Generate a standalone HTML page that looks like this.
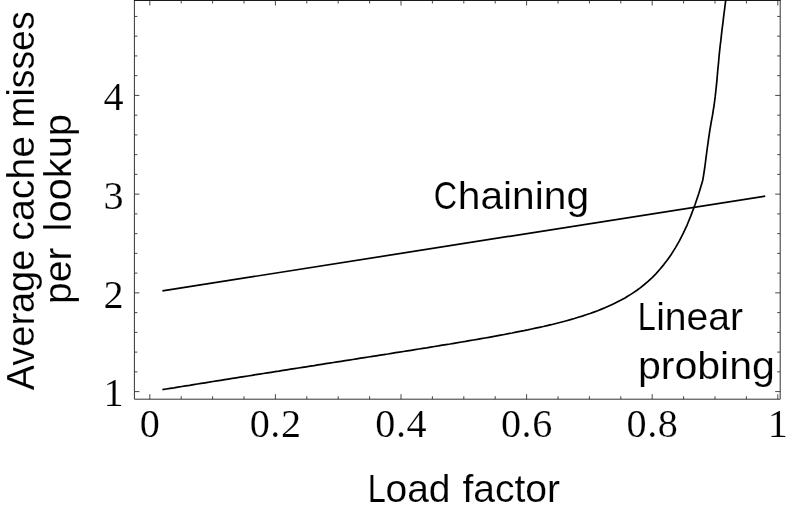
<!DOCTYPE html>
<html><head><meta charset="utf-8"><title>Hash table average cache misses</title>
<style>
html,body{margin:0;padding:0;background:#fff;}
svg{display:block;filter:grayscale(1);}
.s{font-family:"Liberation Serif", serif;font-size:40.2px;fill:#000;stroke:#fff;stroke-width:0.2px;}
.x{letter-spacing:0.6px;}
.n{font-family:"Liberation Sans", sans-serif;font-size:38.2px;fill:#000;stroke:#fff;stroke-width:0.15px;}
.a{font-size:39.6px;}
</style></head><body>
<svg width="788" height="512" viewBox="0 0 788 512">
<rect width="788" height="512" fill="#fff"/>
<path d="M134.4 0.5V399.2H780.2V0.5" fill="none" stroke="#333" stroke-width="1"/>
<path d="M133.9 0.5H780.7" fill="none" stroke="#1a1a1a" stroke-width="1.1"/>
<path d="M149.80 399.2v-5M149.80 0.5v5M181.20 399.2v-3M181.20 0.5v3M212.60 399.2v-3M212.60 0.5v3M244.00 399.2v-3M244.00 0.5v3M275.40 399.2v-5M275.40 0.5v5M306.80 399.2v-3M306.80 0.5v3M338.20 399.2v-3M338.20 0.5v3M369.60 399.2v-3M369.60 0.5v3M401.00 399.2v-5M401.00 0.5v5M432.40 399.2v-3M432.40 0.5v3M463.80 399.2v-3M463.80 0.5v3M495.20 399.2v-3M495.20 0.5v3M526.60 399.2v-5M526.60 0.5v5M558.00 399.2v-3M558.00 0.5v3M589.40 399.2v-3M589.40 0.5v3M620.80 399.2v-3M620.80 0.5v3M652.20 399.2v-5M652.20 0.5v5M683.60 399.2v-3M683.60 0.5v3M715.00 399.2v-3M715.00 0.5v3M746.40 399.2v-3M746.40 0.5v3M777.80 399.2v-5M777.80 0.5v5M134.4 391.60h5M780.2 391.60h-5M134.4 371.85h3M780.2 371.85h-3M134.4 352.11h3M780.2 352.11h-3M134.4 332.36h3M780.2 332.36h-3M134.4 312.62h3M780.2 312.62h-3M134.4 292.87h5M780.2 292.87h-5M134.4 273.12h3M780.2 273.12h-3M134.4 253.38h3M780.2 253.38h-3M134.4 233.63h3M780.2 233.63h-3M134.4 213.89h3M780.2 213.89h-3M134.4 194.14h5M780.2 194.14h-5M134.4 174.39h3M780.2 174.39h-3M134.4 154.65h3M780.2 154.65h-3M134.4 134.90h3M780.2 134.90h-3M134.4 115.16h3M780.2 115.16h-3M134.4 95.41h5M780.2 95.41h-5M134.4 75.66h3M780.2 75.66h-3M134.4 55.92h3M780.2 55.92h-3M134.4 36.17h3M780.2 36.17h-3M134.4 16.43h3M780.2 16.43h-3" fill="none" stroke="#333" stroke-width="0.9"/>
<polyline points="162.4,290.9 765.2,196.1" fill="none" stroke="#000" stroke-width="1.7"/>
<polyline points="162.4,389.6 166.2,389.0 170.1,388.4 174.0,387.8 177.9,387.1 181.8,386.5 185.7,385.9 189.6,385.3 193.5,384.6 197.3,384.0 201.2,383.4 205.1,382.8 209.0,382.2 212.9,381.5 216.8,380.9 220.7,380.3 224.6,379.7 228.4,379.1 232.3,378.4 236.2,377.8 240.1,377.2 244.0,376.6 247.9,376.0 251.8,375.4 255.7,374.7 259.5,374.1 263.4,373.5 267.3,372.9 271.2,372.3 275.1,371.7 279.0,371.1 282.9,370.4 286.8,369.8 290.6,369.2 294.5,368.6 298.4,368.0 302.3,367.4 306.2,366.8 310.1,366.2 314.0,365.6 317.9,364.9 321.7,364.3 325.6,363.7 329.5,363.1 333.4,362.5 337.3,361.9 341.2,361.3 345.1,360.7 349.0,360.1 352.8,359.5 356.7,358.8 360.6,358.2 364.5,357.6 368.4,357.0 372.3,356.4 376.2,355.8 380.1,355.2 383.9,354.6 387.8,354.0 391.7,353.3 395.6,352.7 399.5,352.1 403.4,351.5 407.3,350.9 411.1,350.3 415.0,349.6 418.9,349.0 422.8,348.4 426.7,347.8 430.6,347.1 434.5,346.5 438.4,345.9 442.2,345.2 446.1,344.6 450.0,344.0 453.9,343.3 457.8,342.7 461.7,342.0 465.6,341.4 469.5,340.7 473.3,340.0 477.2,339.4 481.1,338.7 485.0,338.0 488.9,337.3 492.8,336.6 496.7,335.9 500.6,335.2 504.4,334.5 508.3,333.7 512.2,333.0 516.1,332.2 520.0,331.4 523.9,330.7 527.8,329.9 531.7,329.0 535.5,328.2 539.4,327.3 543.3,326.5 547.2,325.6 551.1,324.7 555.0,323.7 558.9,322.7 562.8,321.7 566.6,320.7 570.5,319.6 574.4,318.5 578.3,317.3 582.2,316.1 586.1,314.8 590.0,313.5 593.9,312.1 597.7,310.7 601.6,309.1 605.5,307.5 609.4,305.8 613.3,304.0 617.2,302.1 621.1,300.1 625.0,297.9 628.8,295.6 632.7,293.1 636.6,290.5 640.5,287.6 644.4,284.5 648.3,281.2 652.2,277.6 656.1,273.6 659.9,269.3 663.8,264.6 667.7,259.5 671.6,253.9 675.5,247.6 679.4,240.8 683.3,233.2 687.2,224.8 691.0,215.4 694.9,205.0 698.8,193.4 702.7,180.4 703.5,175.8 704.2,171.1 704.9,166.5 705.5,161.8 706.1,157.2 706.7,152.5 707.3,147.9 708.0,143.2 708.6,138.6 709.3,133.9 710.0,129.3 710.8,124.6 711.6,120.0 712.5,115.3 713.2,110.7 714.0,106.0 714.6,101.3 715.2,96.7 715.7,92.0 716.2,87.4 716.7,82.7 717.1,78.1 717.5,73.4 717.9,68.8 718.4,64.1 718.8,59.5 719.2,54.8 719.7,50.2 720.2,45.5 720.8,40.9 721.3,36.2 721.8,31.6 722.4,26.9 723.0,22.3 723.5,17.6 724.1,13.0 724.7,8.3 725.3,3.7 725.9,-1.0" fill="none" stroke="#000" stroke-width="1.7" stroke-linejoin="round"/>
<text class="s" x="123.5" y="406.2" text-anchor="end">1</text>
<text class="s" x="123.5" y="307.5" text-anchor="end">2</text>
<text class="s" x="123.5" y="208.7" text-anchor="end">3</text>
<text class="s" x="123.5" y="110.0" text-anchor="end">4</text>
<text class="s x" x="150.1" y="437.3" text-anchor="middle">0</text>
<text class="s x" x="275.7" y="437.3" text-anchor="middle">0.2</text>
<text class="s x" x="401.3" y="437.3" text-anchor="middle">0.4</text>
<text class="s x" x="526.9" y="437.3" text-anchor="middle">0.6</text>
<text class="s x" x="652.5" y="437.3" text-anchor="middle">0.8</text>
<text class="s x" x="778.1" y="437.3" text-anchor="middle">1</text>
<text class="n" y="209.3"><tspan x="433.84" textLength="23.30" lengthAdjust="spacingAndGlyphs">C</tspan><tspan x="457.76" textLength="131.36" lengthAdjust="spacingAndGlyphs">haining</tspan></text>
<text class="n" y="329.7"><tspan x="637.66" textLength="18.05" lengthAdjust="spacingAndGlyphs">L</tspan><tspan x="656.18" textLength="86.97" lengthAdjust="spacingAndGlyphs">inear</tspan></text>
<text class="n" y="378.7"><tspan x="637.90" textLength="137.07" lengthAdjust="spacingAndGlyphs">probing</tspan></text>
<text class="n a" y="501.9"><tspan x="367.66" textLength="18.05" lengthAdjust="spacingAndGlyphs">L</tspan><tspan x="385.47" textLength="65.03" lengthAdjust="spacingAndGlyphs">oad</tspan> <tspan x="462.40" textLength="97.72" lengthAdjust="spacingAndGlyphs">factor</tspan></text>
<text class="n a" transform="translate(34 400) rotate(-90)" y="0"><tspan x="9.71" textLength="140.61" lengthAdjust="spacingAndGlyphs">Average</tspan> <tspan x="159.22" textLength="104.94" lengthAdjust="spacingAndGlyphs">cache</tspan> <tspan x="272.27" textLength="116.33" lengthAdjust="spacingAndGlyphs">misses</tspan></text>
<text class="n a" transform="translate(70.8 400) rotate(-90)" y="0"><tspan x="96.05" textLength="56.55" lengthAdjust="spacingAndGlyphs">per</tspan> <tspan x="168.60" textLength="117.45" lengthAdjust="spacingAndGlyphs">lookup</tspan></text>
</svg></body></html>
